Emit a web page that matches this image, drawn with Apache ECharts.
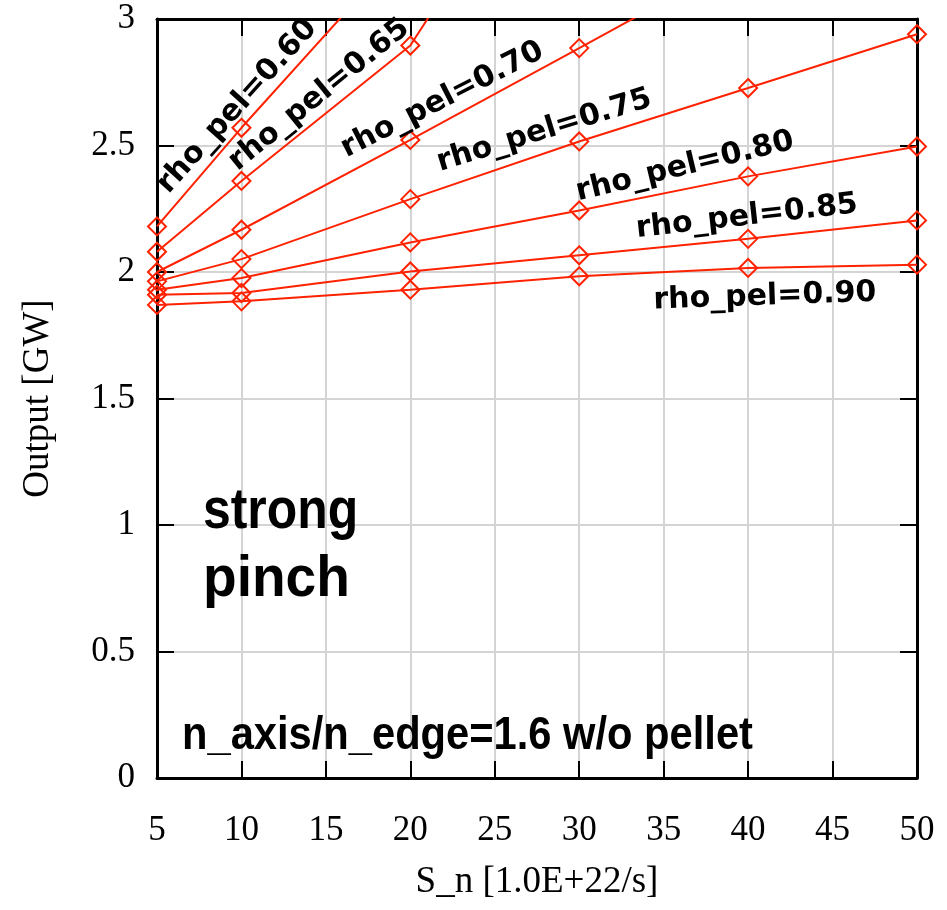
<!DOCTYPE html>
<html>
<head>
<meta charset="utf-8">
<script src="https://cdn.jsdelivr.net/npm/echarts@6/dist/echarts.min.js"></script>
<style>
html,body{margin:0;padding:0;background:#fff;}
#chart{width:947px;height:910px;}
</style>
</head>
<body>
<div id="chart"></div>
<script>
// ---- data ----
const xValues = [5, 10, 20, 30, 40, 50];
const seriesNames = ['rho_pel=0.60','rho_pel=0.65','rho_pel=0.70','rho_pel=0.75','rho_pel=0.80','rho_pel=0.85','rho_pel=0.90'];
const rho060 = [2.18, 2.57, 3.31, null, null, null];
const rho065 = [2.08, 2.36, 2.895, 3.93, null, null];
const rho070 = [2.00, 2.167, 2.522, 2.885, 3.25, null];
const rho075 = [1.963, 2.051, 2.288, 2.516, 2.727, 2.94];
const rho080 = [1.93, 1.976, 2.117, 2.243, 2.378, 2.496];
const rho085 = [1.91, 1.917, 2.002, 2.066, 2.131, 2.204];
const rho090 = [1.87, 1.884, 1.93, 1.983, 2.016, 2.029];
const seriesValues = [rho060, rho065, rho070, rho075, rho080, rho085, rho090];
// label anchors (data coordinates) and angles (deg)
const labelX = [9.75, 14.6, 21.9, 27.93, 36.26, 39.93, 41.0];
const labelY = [2.655, 2.70, 2.68, 2.558, 2.416, 2.218, 1.902];
const labelAngle = [48, 39, 27, 17, 13.5, 6.4, 2];
const xTicks = {min: 5, max: 50, interval: 5};
const yTicks = {min: 0, max: 3, interval: 0.5};

const RED = '#ff2200';
const serif = '"Liberation Serif", "Times New Roman", serif';

const chart = echarts.init(document.getElementById('chart'), null, {renderer: 'canvas'});

const axisCommon = {
  axisLine: {show: true, onZero: false, lineStyle: {color: '#000', width: 3}},
  axisTick: {show: true, inside: true, length: 17, lineStyle: {color: '#000', width: 2}},
};

const option = {
  animation: false,
  backgroundColor: '#fff',
  grid: {left: 157, right: 30, top: 19, bottom: 132, containLabel: false},
  xAxis: [
    Object.assign({
      type: 'value', position: 'bottom', min: xTicks.min, max: xTicks.max, interval: xTicks.interval,
      name: 'S_n [1.0E+22/s]', nameLocation: 'middle', nameGap: 86,
      nameTextStyle: {fontFamily: serif, fontSize: 37, color: '#000'},
      axisLabel: {fontFamily: serif, fontSize: 35, color: '#000', margin: 35},
      splitLine: {show: true, lineStyle: {color: '#d4d4d4', width: 2}}
    }, axisCommon),
    Object.assign({
      type: 'value', position: 'top', min: xTicks.min, max: xTicks.max, interval: xTicks.interval,
      axisLabel: {show: false}, splitLine: {show: false}
    }, axisCommon)
  ],
  yAxis: [
    Object.assign({
      type: 'value', position: 'left', min: yTicks.min, max: yTicks.max, interval: yTicks.interval,
      name: 'Output [GW]', nameLocation: 'middle', nameGap: 100, nameRotate: 90,
      nameTextStyle: {fontFamily: serif, fontSize: 37, color: '#000'},
      axisLabel: {fontFamily: serif, fontSize: 35, color: '#000', margin: 22},
      splitLine: {show: true, lineStyle: {color: '#d4d4d4', width: 2}}
    }, axisCommon),
    Object.assign({
      type: 'value', position: 'right', min: yTicks.min, max: yTicks.max, interval: yTicks.interval,
      axisLabel: {show: false}, splitLine: {show: false}
    }, axisCommon)
  ],
  series: seriesValues.map((vals, i) => ({
    name: seriesNames[i],
    type: 'line',
    xAxisIndex: 0, yAxisIndex: 0,
    clip: true,
    symbol: 'diamond',
    symbolSize: 18,
    showSymbol: true,
    connectNulls: false,
    lineStyle: {color: RED, width: 2},
    itemStyle: {color: 'rgba(0,0,0,0)', borderColor: RED, borderWidth: 2},
    emphasis: {disabled: true},
    data: xValues.map((x, j) => [x, vals[j]])
  }))
};
chart.setOption(option);

const graphics = [];
seriesNames.forEach((name, i) => {
  const p = chart.convertToPixel({gridIndex: 0}, [labelX[i], labelY[i]]);
  graphics.push({
    type: 'text', x: p[0], y: p[1], rotation: labelAngle[i] * Math.PI / 180, z: 100,
    style: {text: name, font: 'bold 30px "DejaVu Sans"', fill: '#000', align: 'center', verticalAlign: 'middle'}
  });
});
graphics.push({
  type: 'text', x: 203, y: 512, scaleX: 0.86, z: 100,
  style: {text: 'strong', font: 'bold 58px "Liberation Sans"', fill: '#000', align: 'left', verticalAlign: 'middle'}
});
graphics.push({
  type: 'text', x: 203, y: 580, scaleX: 0.95, z: 100,
  style: {text: 'pinch', font: 'bold 58px "Liberation Sans"', fill: '#000', align: 'left', verticalAlign: 'middle'}
});
graphics.push({
  type: 'text', x: 182, y: 736, scaleX: 0.906, z: 100,
  style: {text: 'n_axis/n_edge=1.6 w/o pellet', font: 'bold 46px "Liberation Sans"', fill: '#000', align: 'left', verticalAlign: 'middle'}
});
chart.setOption({graphic: graphics});
</script>
</body>
</html>
